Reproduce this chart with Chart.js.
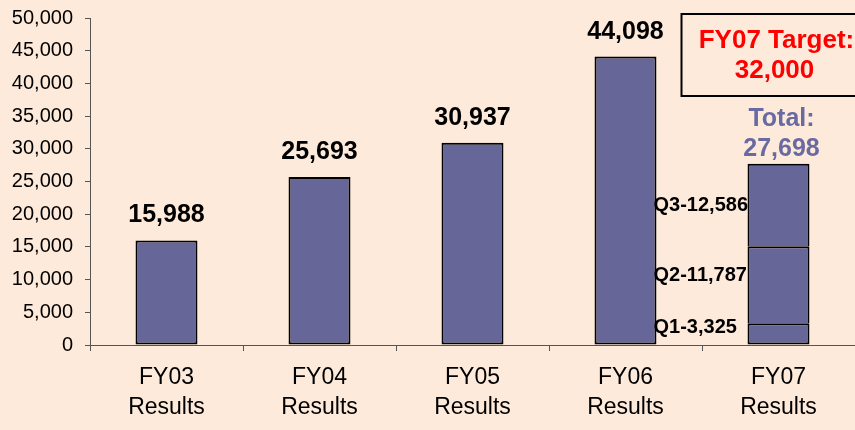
<!DOCTYPE html>
<html>
<head>
<meta charset="utf-8">
<script src="https://cdn.jsdelivr.net/npm/chart.js@4"></script>
<style>
html,body{margin:0;padding:0;background:#FDEADA;}
#wrap{width:855px;height:430px;position:relative;}
</style>
</head>
<body>
<div id="wrap"><canvas id="c" width="855" height="430"></canvas></div>
<script>
const categories = [["FY03","Results"],["FY04","Results"],["FY05","Results"],["FY06","Results"],["FY07","Results"]];
const annualResults = [15988, 25693, 30937, 44098, null];
const fy07Q1 = [null, null, null, null, 3325];
const fy07Q2 = [null, null, null, null, 11787];
const fy07Q3 = [null, null, null, null, 12586];
const quarterLabels = ["Q1-3,325", "Q2-11,787", "Q3-12,586"];
const totalLabel = ["Total:", "27,698"];
const targetLabel = ["FY07 Target:", "32,000"];
const yTicks = [0,5000,10000,15000,20000,25000,30000,35000,40000,45000,50000];

const FONT = '"Liberation Sans", Arial, sans-serif';
const BAR = '#666699';
const BG = '#FDEADA';

const bgPlugin = {
  id: 'bg',
  beforeDraw(chart) {
    const ctx = chart.ctx;
    ctx.save();
    ctx.fillStyle = BG;
    ctx.fillRect(0, 0, chart.width, chart.height);
    ctx.restore();
  }
};

const labelPlugin = {
  id: 'labels',
  afterDatasetsDraw(chart) {
    const ctx = chart.ctx;
    const y = chart.scales.y;
    ctx.save();
    const meta0 = chart.getDatasetMeta(0);
    ctx.font = 'bold 25px ' + FONT;
    ctx.fillStyle = '#000';
    ctx.textAlign = 'center';
    ctx.textBaseline = 'alphabetic';
    annualResults.forEach((v, i) => {
      if (v == null) return;
      const el = meta0.data[i];
      ctx.fillText(v.toLocaleString('en-US'), el.x, el.y - 18);
    });
    const qSets = [fy07Q1, fy07Q2, fy07Q3];
    const shifts = [-8, -11, -1];
    ctx.font = 'bold 20px ' + FONT;
    ctx.textAlign = 'left';
    let base = 0;
    qSets.forEach((arr, k) => {
      const v = arr[4];
      const el = chart.getDatasetMeta(k + 1).data[4];
      const mid = y.getPixelForValue(base + v / 2);
      ctx.fillText(quarterLabels[k], el.x - el.width / 2 - 94, mid + shifts[k] + 7);
      base += v;
    });
    const top = chart.getDatasetMeta(3).data[4];
    ctx.font = 'bold 25px ' + FONT;
    ctx.fillStyle = '#6A6AA2';
    ctx.textAlign = 'center';
    ctx.fillText(totalLabel[0], top.x + 3, top.y - 38);
    ctx.fillText(totalLabel[1], top.x + 3, top.y - 8);
    const bx = top.x - 97;
    ctx.strokeStyle = '#000';
    ctx.lineWidth = 2;
    ctx.strokeRect(bx, 14, 190, 82);
    ctx.fillStyle = '#FF0000';
    ctx.font = 'bold 26px ' + FONT;
    ctx.fillText(targetLabel[0], top.x - 2, 48);
    ctx.fillText(targetLabel[1], top.x - 4, 78);
    ctx.restore();
  }
};

const common = {backgroundColor: BAR, borderColor: '#000', borderSkipped: false,
  categoryPercentage: 1.0, barPercentage: 0.405};

new Chart(document.getElementById('c'), {
  type: 'bar',
  data: {
    labels: categories,
    datasets: [
      Object.assign({label: 'Results', data: annualResults, borderWidth: 2}, common),
      Object.assign({label: 'Q1', data: fy07Q1, borderWidth: {top: 2, bottom: 2, left: 2, right: 2}}, common),
      Object.assign({label: 'Q2', data: fy07Q2, borderWidth: {top: 2, bottom: 0, left: 2, right: 2}}, common),
      Object.assign({label: 'Q3', data: fy07Q3, borderWidth: {top: 2, bottom: 0, left: 2, right: 2}}, common)
    ]
  },
  options: {
    responsive: false,
    animation: false,
    layout: {padding: {top: 18, right: 0, left: 0, bottom: 0}},
    plugins: {legend: {display: false}, tooltip: {enabled: false}},
    scales: {
      x: {
        stacked: true,
        grid: {drawOnChartArea: false, drawTicks: true, tickLength: 6, color: '#555', offset: true},
        border: {display: true, color: '#555', width: 1},
        ticks: {color: '#000', padding: 12, font: {family: FONT, size: 23, lineHeight: 1.3}, maxRotation: 0},
        afterFit(s) { s.height = 85; s.paddingLeft = 0; s.paddingRight = 0; }
      },
      y: {
        stacked: true,
        min: 0, max: 50000,
        afterBuildTicks(s) { s.ticks = yTicks.map(v => ({value: v})); },
        grid: {drawOnChartArea: false, drawTicks: true, tickLength: 5, color: '#555'},
        border: {display: true, color: '#555', width: 1},
        ticks: {color: '#000', padding: 12, font: {family: FONT, size: 20},
          callback: v => Number(v).toLocaleString('en-US')},
        afterFit(s) { s.width = 90; s.paddingTop = 0; s.paddingBottom = 0; }
      }
    }
  },
  plugins: [bgPlugin, labelPlugin]
});
</script>
</body>
</html>
